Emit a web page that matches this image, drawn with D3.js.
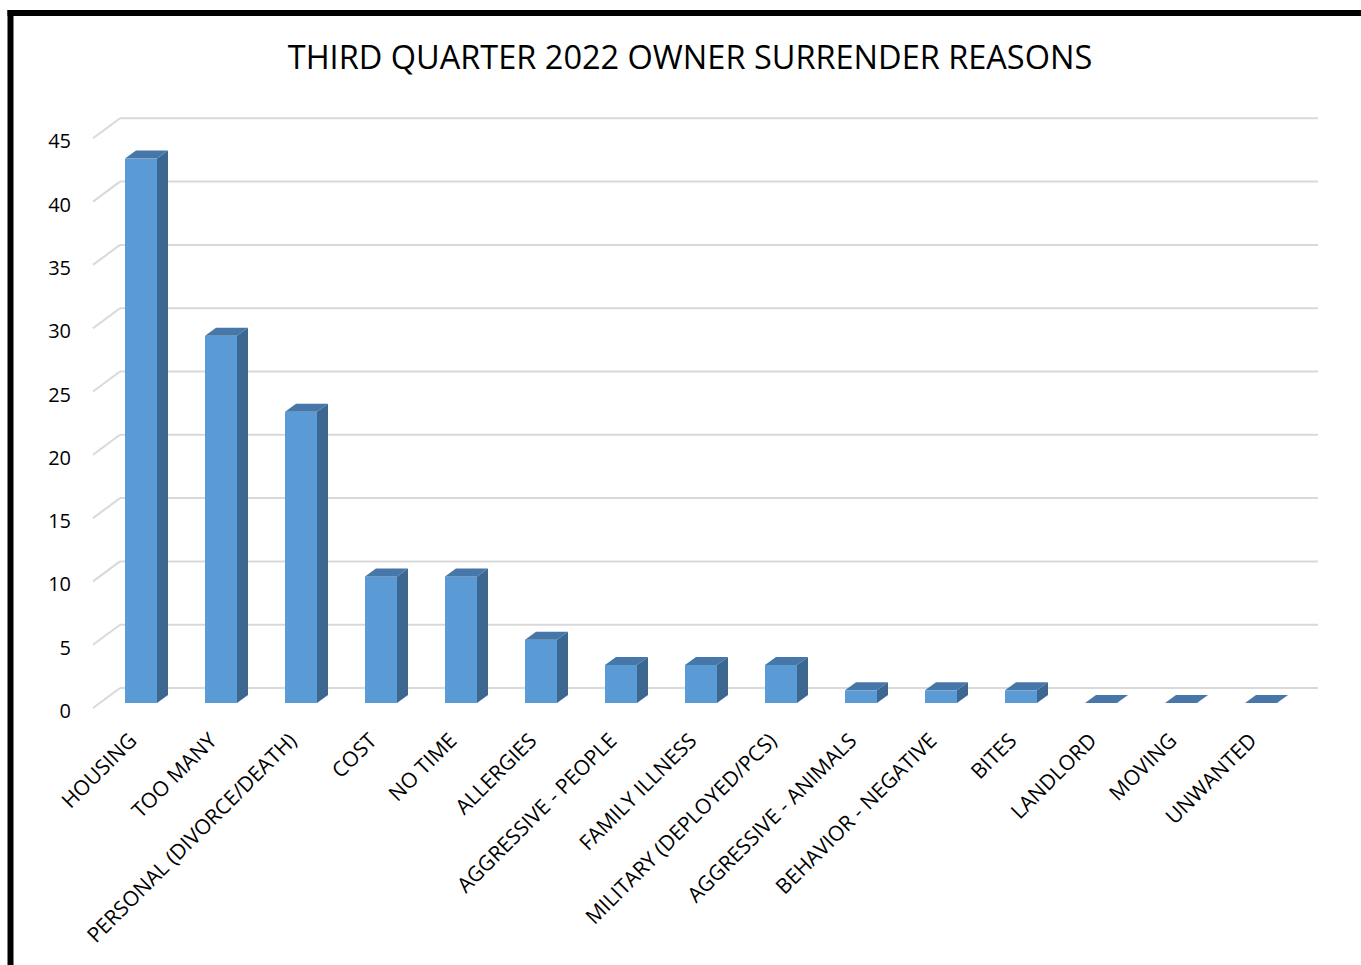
<!DOCTYPE html>
<html>
<head>
<meta charset="utf-8">
<script src="https://cdn.jsdelivr.net/npm/d3@7"></script>
<style>
  html, body { margin: 0; padding: 0; background: #fff; }
  svg { display: block; }
</style>
</head>
<body>
<svg id="chart" width="1361" height="965"></svg>
<script>
const title = "THIRD QUARTER 2022 OWNER SURRENDER REASONS";
const categories = [
  "HOUSING", "TOO MANY", "PERSONAL (DIVORCE/DEATH)", "COST", "NO TIME",
  "ALLERGIES", "AGGRESSIVE - PEOPLE", "FAMILY ILLNESS", "MILITARY (DEPLOYED/PCS)",
  "AGGRESSIVE - ANIMALS", "BEHAVIOR - NEGATIVE", "BITES", "LANDLORD", "MOVING", "UNWANTED"
];
const values = [43, 29, 23, 10, 10, 5, 3, 3, 3, 1, 1, 1, 0, 0, 0];
const yTicks = [0, 5, 10, 15, 20, 25, 30, 35, 40, 45];

const svg = d3.select("#chart");
const FONT = "'Open Sans', sans-serif";

// frame border (left and top)
svg.append("line").attr("x1", 10.5).attr("y1", 10).attr("x2", 10.5).attr("y2", 965)
  .attr("stroke", "#000").attr("stroke-width", 6);
svg.append("line").attr("x1", 7.5).attr("y1", 13).attr("x2", 1361).attr("y2", 13)
  .attr("stroke", "#000").attr("stroke-width", 6);

// title
svg.append("text").attr("x", 690).attr("y", 69).attr("text-anchor", "middle")
  .attr("font-family", FONT).attr("font-size", 32.5).attr("fill", "#000")
  .text(title);

// scales
const y = d3.scaleLinear().domain([0, 45]).range([703, 133.3]);
const x = d3.scaleBand().domain(categories).range([101, 1301]).padding(0);

// 3D geometry
const wallShift = 15;
const wallDX = 27, wallDY = 20;
const wallLeft = 120, wallRight = 1318;
const barW = 32, depthX = 11, depthY = 8;

// gridlines on back wall + left side diagonals
const grid = svg.append("g");
yTicks.forEach(t => {
  const yb = y(t) - wallShift;
  grid.append("line").attr("x1", wallLeft).attr("x2", wallRight)
    .attr("y1", yb).attr("y2", yb).attr("stroke", "#d9d9d9").attr("stroke-width", 2);
  grid.append("line").attr("x1", wallLeft - wallDX).attr("y1", yb + wallDY)
    .attr("x2", wallLeft).attr("y2", yb).attr("stroke", "#d9d9d9").attr("stroke-width", 2);
  grid.append("text").attr("x", 71).attr("y", yb + wallDY + 3).attr("dy", "0.35em")
    .attr("text-anchor", "end").attr("font-family", FONT).attr("font-size", 20)
    .attr("fill", "#000").text(t);
});

// bars
const bars = svg.append("g");
categories.forEach((c, i) => {
  const v = values[i];
  const xc = x(c) + x.bandwidth() / 2;
  const x0 = xc - barW / 2, x1 = xc + barW / 2;
  const yt = y(v), yb = y(0);
  if (v > 0) {
    bars.append("path")
      .attr("d", `M${x1},${yt}L${x1 + depthX},${yt - depthY}L${x1 + depthX},${yb - depthY}L${x1},${yb}Z`)
      .attr("fill", "#3b6790");
    bars.append("rect").attr("x", x0).attr("y", yt).attr("width", barW).attr("height", yb - yt)
      .attr("fill", "#5b9bd5");
  }
  bars.append("path")
    .attr("d", `M${x0},${yt}L${x0 + depthX},${yt - depthY}L${x1 + depthX},${yt - depthY}L${x1},${yt}Z`)
    .attr("fill", "#4677a8");
});

// category labels
const labels = svg.append("g");
categories.forEach(c => {
  const xc = x(c) + x.bandwidth() / 2;
  const ax = xc - 3, ay = 742;
  labels.append("text")
    .attr("transform", `translate(${ax},${ay}) rotate(-45)`)
    .attr("text-anchor", "end").attr("font-family", FONT).attr("font-size", 21)
    .attr("fill", "#000").text(c);
});
</script>
</body>
</html>
